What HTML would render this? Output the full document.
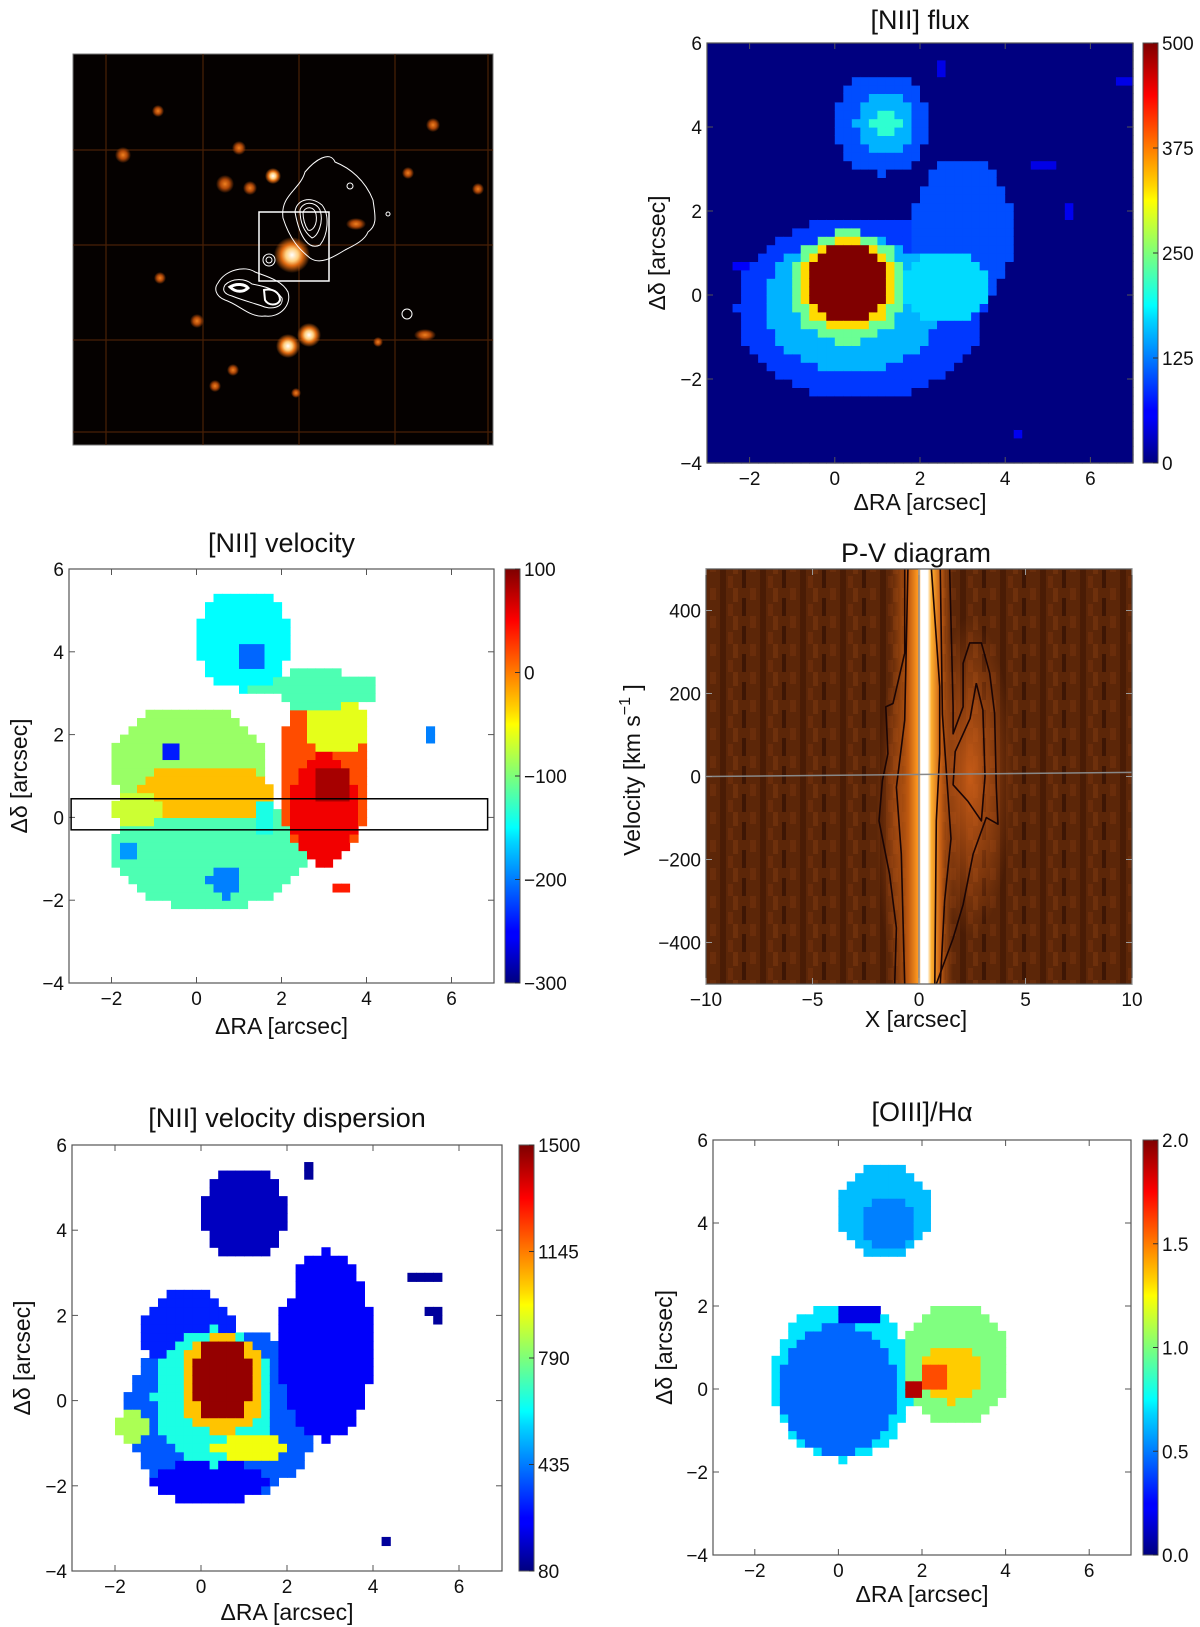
<!DOCTYPE html>
<html><head><meta charset="utf-8"><style>
html,body{margin:0;padding:0;background:#fff;}
svg{display:block;font-family:"Liberation Sans","DejaVu Sans",sans-serif;}
</style></head><body>
<svg id="fig" width="1200" height="1627" viewBox="0 0 1200 1627" xmlns="http://www.w3.org/2000/svg">
<defs>
<linearGradient id="jetV" x1="0" y1="1" x2="0" y2="0">
<stop offset="0" stop-color="#00007f"/><stop offset="0.11" stop-color="#0000ff"/><stop offset="0.125" stop-color="#0000ff"/><stop offset="0.34" stop-color="#00d4ff"/><stop offset="0.375" stop-color="#0ff"/><stop offset="0.5" stop-color="#7dff7a"/><stop offset="0.625" stop-color="#ff0"/><stop offset="0.66" stop-color="#ffd500"/><stop offset="0.875" stop-color="#f00"/><stop offset="1" stop-color="#7f0000"/>
</linearGradient>
<radialGradient id="star" cx="0.5" cy="0.5" r="0.5"><stop offset="0" stop-color="#fff"/><stop offset="0.35" stop-color="#ffd080"/><stop offset="0.6" stop-color="#e06a10"/><stop offset="1" stop-color="#e06a10" stop-opacity="0"/></radialGradient>
<radialGradient id="dimstar" cx="0.5" cy="0.5" r="0.5"><stop offset="0" stop-color="#f08020"/><stop offset="0.5" stop-color="#b04808"/><stop offset="1" stop-color="#b04808" stop-opacity="0"/></radialGradient>
<linearGradient id="pvBand" x1="0" y1="0" x2="1" y2="0">
<stop offset="0" stop-color="#a04810" stop-opacity="0"/><stop offset="0.3" stop-color="#c05a10"/><stop offset="0.45" stop-color="#ff9a20"/><stop offset="0.5" stop-color="#fff"/><stop offset="0.6" stop-color="#fff"/><stop offset="0.66" stop-color="#ffb030"/><stop offset="0.8" stop-color="#c86014"/><stop offset="1" stop-color="#a04810" stop-opacity="0"/>
</linearGradient>
<pattern id="pvNoise" width="40" height="28" patternUnits="userSpaceOnUse">
<rect width="40" height="28" fill="#5c2608"/><rect x="0" y="0" width="6" height="28" fill="#4a1c05"/><rect x="13" y="0" width="5" height="14" fill="#6e300c"/><rect x="22" y="10" width="4" height="18" fill="#3e1604"/><rect x="30" y="0" width="6" height="12" fill="#6a2d0b"/><rect x="8" y="16" width="5" height="12" fill="#6a2c0a"/>
</pattern>
<radialGradient id="pvGlow" cx="0.5" cy="0.5" r="0.5"><stop offset="0" stop-color="#d06018" stop-opacity="0.9"/><stop offset="1" stop-color="#d06018" stop-opacity="0"/></radialGradient>
</defs>

<g>
<rect x="73" y="54" width="420" height="391" fill="#050100" stroke="#777" stroke-width="1"/>
<g stroke="#5a2808" stroke-width="1.2" opacity="0.8">
<line x1="73" y1="150" x2="493" y2="150"/><line x1="73" y1="245" x2="493" y2="245"/><line x1="73" y1="340" x2="493" y2="340"/><line x1="73" y1="432" x2="493" y2="432"/>
<line x1="106" y1="54" x2="106" y2="445"/><line x1="203" y1="54" x2="203" y2="445"/><line x1="299" y1="54" x2="299" y2="445"/><line x1="395" y1="54" x2="395" y2="445"/><line x1="488" y1="54" x2="488" y2="445"/>
</g>
<g>
<circle cx="292" cy="255" r="18" fill="url(#star)"/>
<circle cx="309" cy="335" r="12" fill="url(#star)"/>
<circle cx="288" cy="346" r="12" fill="url(#star)"/>
<circle cx="273" cy="176" r="8" fill="url(#star)"/>
<circle cx="225" cy="184" r="9" fill="url(#dimstar)"/>
<circle cx="250" cy="188" r="7" fill="url(#dimstar)"/>
<circle cx="239" cy="148" r="7" fill="url(#dimstar)"/>
<circle cx="123" cy="155" r="8" fill="url(#dimstar)"/>
<circle cx="158" cy="111" r="6" fill="url(#dimstar)"/>
<circle cx="433" cy="125" r="7" fill="url(#dimstar)"/>
<circle cx="408" cy="173" r="6" fill="url(#dimstar)"/>
<circle cx="478" cy="189" r="6" fill="url(#dimstar)"/>
<ellipse cx="356" cy="224" rx="10" ry="6" fill="url(#dimstar)"/>
<circle cx="160" cy="278" r="6" fill="url(#dimstar)"/>
<circle cx="197" cy="321" r="7" fill="url(#dimstar)"/>
<ellipse cx="425" cy="335" rx="11" ry="6" fill="url(#dimstar)"/>
<circle cx="233" cy="370" r="6" fill="url(#dimstar)"/>
<circle cx="215" cy="386" r="6" fill="url(#dimstar)"/>
<circle cx="296" cy="393" r="5" fill="url(#dimstar)"/>
<circle cx="378" cy="342" r="5" fill="url(#dimstar)"/>
</g>
<g fill="none" stroke="#fff" stroke-width="1">
<path d="M283,218 C280,195 300,190 305,172 C315,160 330,150 335,162 C350,168 365,180 373,200 C375,215 378,225 368,232 C365,240 355,245 345,250 C332,258 320,265 310,258 C300,250 290,240 283,218Z"/>
<path d="M295,212 C296,200 310,195 322,205 C330,215 328,235 320,245 C310,250 300,240 295,212Z"/>
<path d="M300,210 C302,202 315,200 320,210 C324,222 318,236 312,238 C304,232 300,222 300,210Z"/>
<path d="M303,212 C306,206 314,206 316,214 C318,225 312,232 308,230 C304,224 303,218 303,212Z"/>
<path d="M218,283 C225,270 245,265 255,272 C265,276 282,280 288,292 C292,305 280,318 265,316 C250,318 240,305 225,300 C215,296 214,288 218,283Z"/>
<path d="M225,285 C232,278 245,278 252,284 C262,286 275,288 282,298 C284,308 270,310 262,306 C250,302 242,300 232,296 C224,294 222,290 225,285Z"/>
<path d="M230,287 C236,283 245,284 248,288 C244,292 236,293 230,287Z" stroke-width="3"/>
<path d="M264,290 C272,288 280,292 280,300 C278,306 268,306 265,300Z" stroke-width="2"/>
<circle cx="269" cy="260" r="6"/><circle cx="269" cy="260" r="3"/>
<circle cx="407" cy="314" r="5"/><circle cx="350" cy="186" r="3"/><circle cx="388" cy="214" r="2"/>
</g>
<rect x="259" y="212" width="70" height="69" fill="none" stroke="#fff" stroke-width="1.5"/>
</g>

<g id="p2"></g>
<g id="p3"></g>
<g id="p4"></g>
<g id="p5"></g>
<g id="p6"></g>
</svg>
<script>
const mapTicksX = [-2, 0, 2, 4, 6];
const mapTicksY = [-4, -2, 0, 2, 4, 6];

// [NII] flux blobs
const fluxCx  = [0.6, 3.0, 0.4, 2.6, 0.3, 0.3, 0.3, 1.1, 1.2, 1.2, 1.6, -2.2, 2.5, 4.9, 5.5, 6.0, 4.3, 3.8, 6.8];
const fluxCy  = [-0.3, 1.5, -0.2, 0.2, 0.2, 0.25, 0.3, 4.1, 4.1, 4.1, 2.6, 0.7, 5.4, 3.1, 2.0, 0.2, -3.2, -3.6, 5.1];
const fluxRx  = [2.9, 1.2, 2.1, 1.0, 1.35, 1.1, 0.9, 1.1, 0.7, 0.35, 0.5, 0.25, 0.1, 0.4, 0.2, 0.1, 0.45, 0.1, 0.2];
const fluxRy  = [2.2, 1.8, 1.6, 0.9, 1.35, 1.1, 0.9, 1.2, 0.7, 0.35, 0.4, 0.15, 0.2, 0.15, 0.15, 0.1, 0.1, 0.1, 0.1];
const fluxVal = [90, 100, 150, 170, 240, 330, 500, 100, 150, 210, 0, 60, 50, 50, 55, 50, 55, 50, 50];
const fluxCbTicks = [0, 125, 250, 375, 500];

// [NII] velocity blobs
const velCx  = [0.3, -0.2, 3.0, 3.3, 2.8, 1.1, 1.3, 0.2, -1.4, 3.0, 3.2, 1.6, -0.6, -1.6, 0.7, 1.7, 5.5, 2.4, 3.5, 4.2, 6.0];
const velCy  = [-0.8, 1.3, 1.0, 2.2, 3.1, 4.3, 3.9, 0.6, 0.2, 0.2, 0.8, 0.0, 1.6, -0.8, -1.5, 2.6, 2.0, 5.4, -1.7, -3.2, 0.4];
const velRx  = [2.3, 1.8, 1.1, 0.8, 1.5, 1.1, 0.35, 1.6, 0.6, 0.8, 0.4, 0.3, 0.25, 0.3, 0.4, 0.5, 0.2, 0.1, 0.2, 0.35, 0.1];
const velRy  = [1.4, 1.4, 2.0, 0.6, 0.45, 1.2, 0.35, 0.7, 0.5, 1.4, 0.5, 0.5, 0.25, 0.3, 0.4, 0.4, 0.2, 0.2, 0.1, 0.1, 0.1];
const velVal = [-120, -90, 20, -60, -120, -150, -210, -25, -70, 55, 85, -140, -240, -190, -200, NaN, -200, -80, 40, -120, -90];
const velCbTicks = [-300, -200, -100, 0, 100];

// [NII] velocity dispersion blobs
const dispCx  = [0.5, -0.3, 2.9, 1.0, 0.2, 0.3, 0.5, 0.5, 1.2, -1.6, 1.7, 5.2, 5.5, 4.3, 2.5, 2.6];
const dispCy  = [-0.3, 1.6, 1.3, 4.4, -1.9, 0.1, 0.4, 0.5, -1.1, -0.6, 2.6, 2.9, 2.1, -3.2, 5.4, -2.8];
const dispRx  = [2.3, 1.1, 1.1, 1.0, 1.3, 1.4, 1.0, 0.75, 0.9, 0.4, 0.5, 0.4, 0.2, 0.45, 0.1, 0.2];
const dispRy  = [2.0, 1.0, 2.2, 1.1, 0.5, 1.6, 1.2, 0.95, 0.25, 0.4, 0.4, 0.15, 0.2, 0.1, 0.2, 0.1];
const dispVal = [380, 300, 250, 170, 250, 650, 1050, 1470, 950, 850, NaN, 120, 120, 120, 120, 300];
const dispCbTicks = [80, 435, 790, 1145, 1500];

// [OIII]/Halpha blobs
const oiiiCx  = [1.1, 1.2, 0.1, 0.0, 0.5, 2.8, 2.7, 2.3, 1.8, 4.0];
const oiiiCy  = [4.3, 4.0, 0.2, 0.0, 1.8, 0.6, 0.4, 0.3, 0.0, 3.0];
const oiiiRx  = [1.1, 0.6, 1.7, 1.4, 0.5, 1.3, 0.7, 0.35, 0.3, 0.1];
const oiiiRy  = [1.1, 0.6, 1.9, 1.6, 0.2, 1.5, 0.7, 0.35, 0.2, 0.1];
const oiiiVal = [0.62, 0.5, 0.7, 0.45, 0.2, 1.0, 1.35, 1.6, 1.9, 0.85];
const oiiiCbTicks = [0.0, 0.5, 1.0, 1.5, 2.0];

// P-V diagram
const pvTicksX = [-10, -5, 0, 5, 10];
const pvTicksY = [-400, -200, 0, 200, 400];
const pvLeftOuterX = [-0.67, -0.67, -1.22, -1.56, -1.46, -1.72, -1.88, -1.38, -1.06, -1.14];
const pvLeftOuterV = [500, 297, 176, 168, 55, -10, -107, -236, -365, -500];
const pvLeftInnerX = [-0.52, -0.67, -1.06, -0.83, -0.67];
const pvLeftInnerV = [500, 136, -26, -187, -500];
const pvRightEdgeX = [0.58, 0.97, 0.97, 0.81, 0.74];
const pvRightEdgeV = [500, 217, 55, -107, -500];
const pvRightOuterX = [1.44, 1.6, 1.6, 2.07, 2.07, 2.38, 2.93, 3.32, 3.55, 3.63, 3.71, 3.16, 2.54, 2.07, 1.6, 0.81];
const pvRightOuterV = [500, 168, 103, 168, 273, 322, 322, 249, 152, -26, -115, -99, -187, -309, -390, -500];
const pvInnerX = [2.69, 3.0, 3.1, 2.93, 2.3, 1.6, 1.7, 2.4, 2.69];
const pvInnerV = [225, 160, 0, -107, -60, -20, 60, 140, 225];
const pvMidX = [1.0, 1.2, 1.5, 1.3, 1.1, 1.0];
const pvMidV = [-500, -300, -150, 0, 150, 500];
const pvZeroX = [-10, 10];
const pvZeroV = [0, 10];

const NS = "http://www.w3.org/2000/svg";
function mk(parent, tag, attrs, text) {
  const e = document.createElementNS(NS, tag);
  for (const k in attrs) e.setAttribute(k, attrs[k]);
  if (text !== undefined) e.textContent = text;
  parent.appendChild(e);
  return e;
}
function jet(t) {
  t = Math.max(0, Math.min(1, t));
  const c = v => Math.round(255 * Math.max(0, Math.min(1, v)));
  return `rgb(${c(1.5 - Math.abs(4 * t - 3))},${c(1.5 - Math.abs(4 * t - 2))},${c(1.5 - Math.abs(4 * t - 1))})`;
}
function makeAxis(px0, px1, py0, py1, xmin, xmax, ymin, ymax) {
  return {
    px0, px1, py0, py1,
    sx: v => px0 + (v - xmin) / (xmax - xmin) * (px1 - px0),
    sy: v => py1 - (v - ymin) / (ymax - ymin) * (py1 - py0)
  };
}
function drawFrame(g, ax, ticksX, ticksY, fmtX, fmtY, tickColor) {
  const fr = mk(g, "rect", {x: ax.px0, y: ax.py0, width: ax.px1 - ax.px0, height: ax.py1 - ax.py0, fill: "none", stroke: "#555", "stroke-width": 1.2});
  
  
  const tc = tickColor || "#555";
  ticksX.forEach(v => {
    const x = ax.sx(v);
    mk(g, "line", {x1: x, y1: ax.py1, x2: x, y2: ax.py1 - 6, stroke: tc, "stroke-width": 1});
    mk(g, "line", {x1: x, y1: ax.py0, x2: x, y2: ax.py0 + 6, stroke: tc, "stroke-width": 1});
    const t = mk(g, "text", {x: x, y: ax.py1 + 22, "text-anchor": "middle", "font-size": 19, fill: "#111"}, fmtX(v));
    
    
  });
  ticksY.forEach(v => {
    const y = ax.sy(v);
    mk(g, "line", {x1: ax.px0, y1: y, x2: ax.px0 + 6, y2: y, stroke: tc, "stroke-width": 1});
    mk(g, "line", {x1: ax.px1, y1: y, x2: ax.px1 - 6, y2: y, stroke: tc, "stroke-width": 1});
    const t = mk(g, "text", {x: ax.px0 - 5, y: y + 7, "text-anchor": "end", "font-size": 19, fill: "#111"}, fmtY(v));
    
    
  });
}
const fmtNum = v => (v < 0 ? "\u2212" + Math.abs(v) : String(v));
function drawHeat(g, ax, cx, cy, rx, ry, val, vmin, vmax, bg) {
  const step = 0.2;
  const cw = ax.sx(step) - ax.sx(0), ch = ax.sy(0) - ax.sy(step);
  for (let i = 0; i < 50; i++) {
    for (let j = 0; j < 50; j++) {
      const x = -3 + (i + 0.5) * step, y = -4 + (j + 0.5) * step;
      let v = bg;
      for (let k = 0; k < cx.length; k++) {
        const dx = (x - cx[k]) / rx[k], dy = (y - cy[k]) / ry[k];
        if (dx * dx + dy * dy <= 1) { v = val[k]; }
      }
      if (v === null || (typeof v === "number" && isNaN(v))) continue;
      const r = mk(g, "rect", {x: ax.sx(x - step / 2).toFixed(2), y: ax.sy(y + step / 2).toFixed(2), width: (cw + 0.6).toFixed(2), height: (ch + 0.6).toFixed(2), fill: jet((v - vmin) / (vmax - vmin))});
      
      
    }
  }
}
function drawColorbar(g, x, y0, y1, ticks, vmin, vmax, fmt) {
  const r = mk(g, "rect", {x: x, y: y0, width: 15, height: y1 - y0, fill: "url(#jetV)", stroke: "#555", "stroke-width": 1});
  
  
  ticks.forEach(v => {
    const y = y1 - (v - vmin) / (vmax - vmin) * (y1 - y0);
    mk(g, "line", {x1: x + 15, y1: y, x2: x + 10, y2: y, stroke: "#333"});
    const t = mk(g, "text", {x: x + 19, y: y + 7, "font-size": 19, fill: "#111"}, fmt(v));
    
    
  });
}
function title(g, x, y, txt, name) {
  const t = mk(g, "text", {x: x, y: y, "text-anchor": "middle", "font-size": 27, fill: "#111"}, txt);
  
  
  return t;
}
function xlab(g, x, y, txt) {
  const t = mk(g, "text", {x: x, y: y, "text-anchor": "middle", "font-size": 23, fill: "#111"}, txt);
  
  
}
function ylab(g, x, y, txt) {
  const t = mk(g, "text", {x: x, y: y, "text-anchor": "middle", "font-size": 23, fill: "#111", transform: `rotate(-90 ${x} ${y})`}, txt);
  
  
  return t;
}
function mapPanel(id, box, cx, cy, rx, ry, val, vmin, vmax, bg, cbX, cbTicks, cbFmt, ttl, ttlY, xlY, ylX) {
  const g = document.getElementById(id);
  const ax = makeAxis(box[0], box[1], box[2], box[3], -3, 7, -4, 6);
  const hg = mk(g, "g", {});
  
  
  drawHeat(hg, ax, cx, cy, rx, ry, val, vmin, vmax, bg);
  drawFrame(g, ax, mapTicksX, mapTicksY, fmtNum, fmtNum);
  drawColorbar(g, cbX, box[2], box[3], cbTicks, vmin, vmax, cbFmt);
  const mid = (box[0] + box[1]) / 2;
  title(g, mid, ttlY, ttl, 'panel-title');
  xlab(g, mid, xlY, "\u0394RA [arcsec]");
  ylab(g, ylX, (box[2] + box[3]) / 2, "\u0394\u03b4 [arcsec]");
  return {g, ax};
}

mapPanel("p2", [707, 1133, 43, 463], fluxCx, fluxCy, fluxRx, fluxRy, fluxVal, 0, 500, 0, 1143, fluxCbTicks, fmtNum, "[NII] flux", 29, 510, 665);

const vp = mapPanel("p3", [69, 494, 569, 983], velCx, velCy, velRx, velRy, velVal, -300, 100, null, 505, velCbTicks, fmtNum, "[NII] velocity", 552, 1034, 27);
const slit = mk(vp.g, "rect", {x: vp.ax.sx(-2.95), y: vp.ax.sy(0.45), width: vp.ax.sx(6.85) - vp.ax.sx(-2.95), height: vp.ax.sy(-0.3) - vp.ax.sy(0.45), fill: "none", stroke: "#000", "stroke-width": 1.5});



mapPanel("p5", [72, 502, 1145, 1571], dispCx, dispCy, dispRx, dispRy, dispVal, 80, 1500, null, 519, dispCbTicks, fmtNum, "[NII] velocity dispersion", 1127, 1620, 30);

mapPanel("p6", [713, 1131, 1140, 1555], oiiiCx, oiiiCy, oiiiRx, oiiiRy, oiiiVal, 0, 2, null, 1143, oiiiCbTicks, v => v.toFixed(1), "[OIII]/H\u03b1", 1121, 1602, 672);

(function () {
  const g = document.getElementById("p4");
  const ax = makeAxis(706, 1132, 569, 984, -10, 10, -500, 500);
  const bgR = mk(g, "rect", {x: ax.px0, y: ax.py0, width: ax.px1 - ax.px0, height: ax.py1 - ax.py0, fill: "url(#pvNoise)"});
  
  
  mk(g, "ellipse", {cx: ax.sx(2.4), cy: ax.sy(0), rx: ax.sx(2) - ax.sx(0), ry: 160, fill: "url(#pvGlow)"});
  mk(g, "ellipse", {cx: ax.sx(-1.0), cy: ax.sy(-100), rx: ax.sx(1) - ax.sx(0), ry: 150, fill: "url(#pvGlow)", opacity: 0.6});
  const band = mk(g, "rect", {x: ax.sx(-1.4), y: ax.py0, width: ax.sx(1.6) - ax.sx(-1.4), height: ax.py1 - ax.py0, fill: "url(#pvBand)"});
  
  
  const lines = [[pvLeftOuterX, pvLeftOuterV], [pvLeftInnerX, pvLeftInnerV], [pvRightEdgeX, pvRightEdgeV], [pvRightOuterX, pvRightOuterV], [pvInnerX, pvInnerV], [pvMidX, pvMidV]];
  lines.forEach(([xs, vs]) => {
    const d = xs.map((x, i) => (i ? "L" : "M") + ax.sx(x).toFixed(1) + "," + ax.sy(vs[i]).toFixed(1)).join(" ");
    const p = mk(g, "path", {d: d, fill: "none", stroke: "#1a0505", "stroke-width": 1.6, "stroke-linejoin": "round"});
    
    
  });
  const vl = mk(g, "line", {x1: ax.sx(0), y1: ax.py0, x2: ax.sx(0), y2: ax.py1, stroke: "#888", "stroke-width": 1.5});
  
  
  const hl = mk(g, "line", {x1: ax.sx(pvZeroX[0]), y1: ax.sy(pvZeroV[0]), x2: ax.sx(pvZeroX[1]), y2: ax.sy(pvZeroV[1]), stroke: "#888", "stroke-width": 1.5});
  
  
  drawFrame(g, ax, pvTicksX, pvTicksY, fmtNum, fmtNum, "#999");
  title(g, 916, 562, "P-V diagram", 'panel-title');
  xlab(g, 916, 1027, "X [arcsec]");
  const t = ylab(g, 640, 770, "");
  t.appendChild(document.createTextNode("Velocity [km s"));
  const sup = document.createElementNS(NS, "tspan");
  sup.setAttribute("dy", "-10"); sup.setAttribute("font-size", "16");
  sup.textContent = "\u22121";
  t.appendChild(sup);
  const close = document.createElementNS(NS, "tspan");
  close.setAttribute("dy", "10");
  close.textContent = " ]";
  t.appendChild(close);
})();
</script>
</body></html>
